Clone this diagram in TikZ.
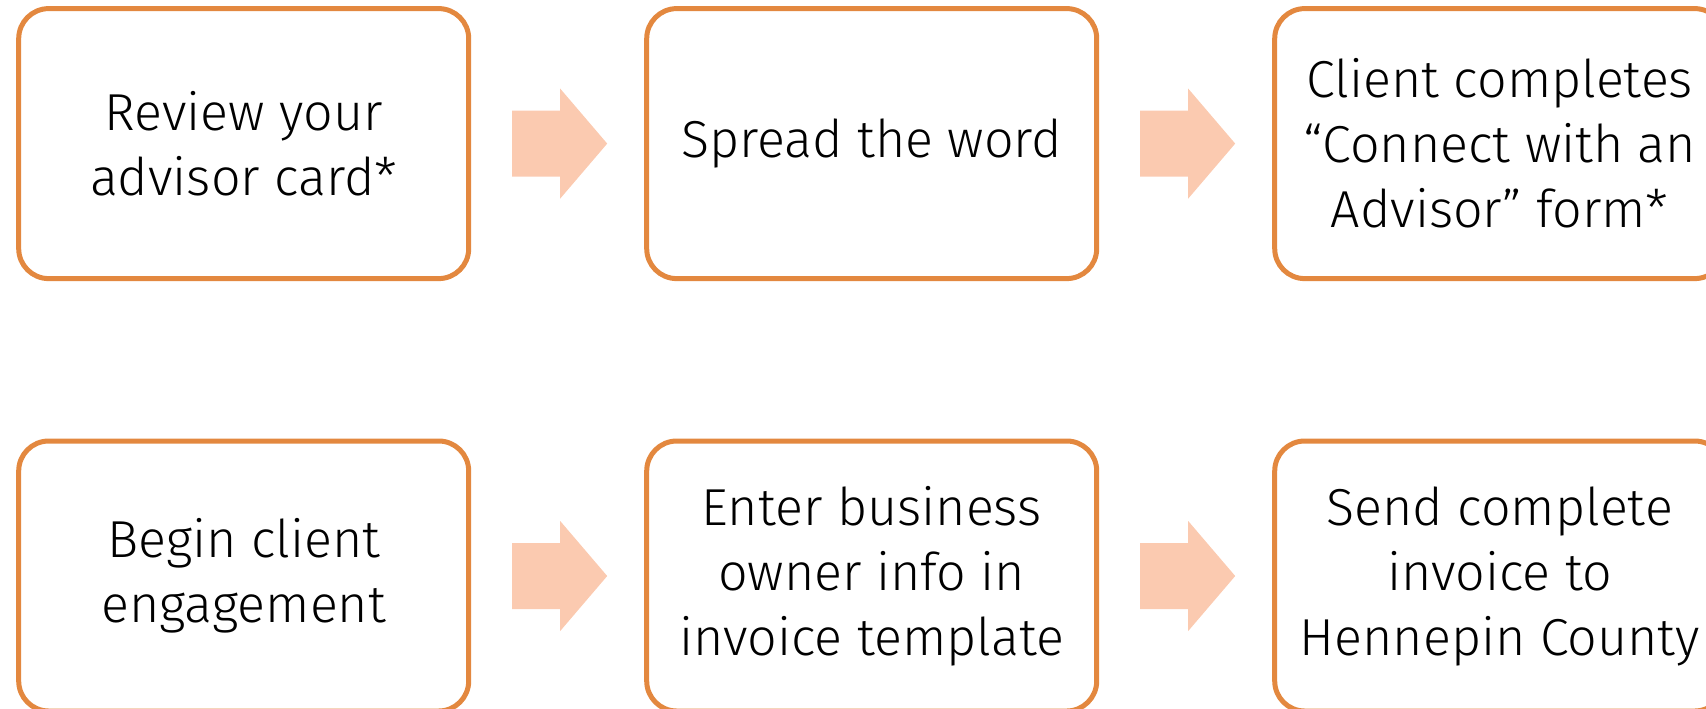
\documentclass[tikz,border=0pt]{standalone}
\usepackage{fontspec}
\setmainfont{Fira Sans Light}
\usepackage{tikz}
\usetikzlibrary{positioning,calc}
\definecolor{boxorange}{HTML}{E3883F}
\definecolor{arrowpeach}{HTML}{FBCAB0}

% block arrow between two step boxes
\newcommand{\blockarrow}[2]{%
  \path (#1.east) -- (#2.west) coordinate[midway] (#1-#2);
  \fill[arrowpeach] ($(#1-#2)+(-45.5,-33)$) -- ++(48,0) -- ++(0,-22) -- ++(47,55)
    -- ++(-47,55) -- ++(0,-22) -- ++(-48,0) -- cycle;}

\begin{document}
\begin{tikzpicture}[x=0.5pt,y=-0.5pt,
                    stepbox/.style={draw=boxorange, line width=2.5pt, rounded corners=15pt,
                                    minimum width=225pt, minimum height=135pt, inner sep=0pt,
                                    align=center, font=\fontsize{26}{32.5}\selectfont},
                   ]

\useasboundingbox (0,0) rectangle (1706,708);

% first row
\node[stepbox] (review) at (243.7,143.6) {Review your\\advisor card*};
\node[stepbox, right=86.5pt of review] (spread) {Spread the word};
\node[stepbox, right=86.5pt of spread] (connect) {Client completes\\“Connect with an\\Advisor” form*};

% second row
\node[stepbox] (engage) at (243.7,576) {Begin client\\engagement};
\node[stepbox, right=86.5pt of engage] (enter) {Enter business\\owner info in\\invoice template};
\node[stepbox, right=86.5pt of enter] (send) {Send complete\\invoice to\\Hennepin County};

\blockarrow{review}{spread}
\blockarrow{spread}{connect}
\blockarrow{engage}{enter}
\blockarrow{enter}{send}

\end{tikzpicture}
\end{document}
